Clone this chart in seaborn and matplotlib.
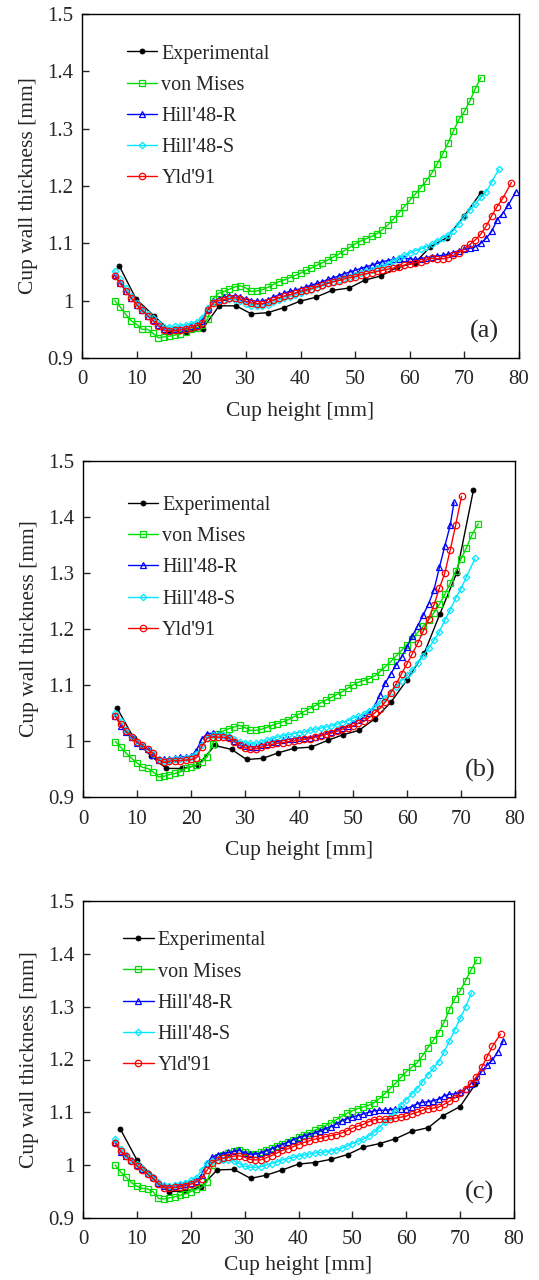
import matplotlib
matplotlib.use("Agg")
import matplotlib.pyplot as plt
import seaborn as sns

# ---------------- data ----------------
H_GRID = [6, 7, 8, 9, 10, 11, 12, 13, 14, 15, 16, 17, 18, 19, 20, 21, 22, 23, 24, 25,
          26, 27, 28, 29, 30, 31, 32, 33, 34, 35, 36, 37, 38, 39, 40, 41, 42, 43, 44, 45,
          46, 47, 48, 49, 50, 51, 52, 53, 54, 55, 56, 57, 58, 59, 60, 61, 62, 63, 64, 65,
          66, 67, 68, 69, 70, 71, 72, 73, 74, 75, 76, 77, 78, 79]

labels = ["Experimental", "von Mises", "Hill'48-R", "Hill'48-S", "Yld'91"]
panel_tags = ["(a)", "(b)", "(c)"]
x_ticks = [0, 10, 20, 30, 40, 50, 60, 70, 80]
y_ticks = [0.9, 1.0, 1.1, 1.2, 1.3, 1.4, 1.5]
y_tick_labels = ["0.9", "1", "1.1", "1.2", "1.3", "1.4", "1.5"]

# ---- panel (a) ----
exp_x_a = [6.8, 9.9, 13.1, 16.0, 19.0, 22.1, 25.1, 28.2, 31.0, 34.0, 37.0, 39.9, 42.8,
           45.8, 48.9, 51.8, 54.7, 57.7, 60.9, 63.7, 66.8, 70.0, 73.0]
exp_y_a = [1.061, 1.003, 0.974, 0.949, 0.945, 0.951, 0.991, 0.991, 0.977, 0.979, 0.988,
           0.999, 1.006, 1.018, 1.022, 1.036, 1.043, 1.058, 1.066, 1.093, 1.110, 1.148, 1.188]
mises_y_a = [1.000, 0.989, 0.976, 0.965, 0.959, 0.950, 0.950, 0.943, 0.935, 0.937,
             0.938, 0.940, 0.942, 0.946, 0.950, 0.953, 0.957, 0.968, 1.003, 1.013,
             1.016, 1.020, 1.024, 1.026, 1.022, 1.016, 1.017, 1.019, 1.023, 1.028,
             1.033, 1.036, 1.040, 1.044, 1.048, 1.053, 1.057, 1.062, 1.066, 1.071,
             1.076, 1.081, 1.087, 1.093, 1.099, 1.104, 1.108, 1.112, 1.117, 1.124,
             1.132, 1.142, 1.153, 1.164, 1.175, 1.186, 1.197, 1.209, 1.222, 1.238,
             1.255, 1.275, 1.296, 1.316, 1.330, 1.348, 1.370, 1.389]
mises_xend_a = 73.0
hillr_y_a = [1.044, 1.031, 1.017, 1.004, 0.993, 0.983, 0.974, 0.966, 0.957, 0.950,
             0.949, 0.950, 0.951, 0.953, 0.955, 0.958, 0.964, 0.985, 0.999, 1.003,
             1.006, 1.008, 1.009, 1.007, 1.003, 1.000, 0.999, 0.999, 1.002, 1.006,
             1.010, 1.013, 1.016, 1.018, 1.021, 1.024, 1.027, 1.030, 1.033, 1.037,
             1.040, 1.043, 1.047, 1.050, 1.053, 1.056, 1.059, 1.062, 1.065, 1.068,
             1.070, 1.072, 1.073, 1.074, 1.073, 1.072, 1.073, 1.075, 1.077, 1.078,
             1.079, 1.081, 1.084, 1.087, 1.090, 1.091, 1.094, 1.100, 1.109, 1.121,
             1.141, 1.152, 1.166, 1.190]
hillr_xend_a = 79.4
hills_y_a = [1.052, 1.037, 1.022, 1.008, 0.996, 0.986, 0.977, 0.969, 0.961, 0.954,
             0.954, 0.955, 0.956, 0.958, 0.960, 0.963, 0.970, 0.987, 0.997, 1.000,
             1.002, 1.003, 1.002, 0.999, 0.995, 0.991, 0.990, 0.990, 0.993, 0.997,
             1.001, 1.004, 1.007, 1.010, 1.013, 1.016, 1.019, 1.022, 1.026, 1.030,
             1.033, 1.036, 1.039, 1.042, 1.045, 1.048, 1.051, 1.054, 1.057, 1.060,
             1.064, 1.069, 1.074, 1.079, 1.083, 1.087, 1.090, 1.094, 1.098, 1.104,
             1.110, 1.114, 1.122, 1.134, 1.146, 1.158, 1.168, 1.180, 1.190, 1.207,
             1.229]
hills_xend_a = 76.3
yld_y_a = [1.043, 1.030, 1.017, 1.005, 0.993, 0.983, 0.974, 0.965, 0.956, 0.948,
           0.947, 0.948, 0.949, 0.951, 0.953, 0.956, 0.961, 0.983, 0.996, 1.000,
           1.002, 1.004, 1.005, 1.003, 0.999, 0.996, 0.995, 0.995, 0.997, 1.001,
           1.005, 1.008, 1.010, 1.013, 1.016, 1.019, 1.021, 1.024, 1.027, 1.030,
           1.033, 1.035, 1.038, 1.040, 1.042, 1.045, 1.047, 1.049, 1.051, 1.053,
           1.055, 1.057, 1.059, 1.062, 1.064, 1.066, 1.068, 1.071, 1.074, 1.073,
           1.073, 1.075, 1.079, 1.084, 1.091, 1.098, 1.106, 1.116, 1.130, 1.148,
           1.164, 1.178, 1.206]
yld_xend_a = 78.6

# ---- panel (b) ----
exp_x_b = [6.3, 9.4, 12.5, 15.4, 18.4, 21.3, 24.4, 27.5, 30.3, 33.3, 36.2, 39.1, 42.2,
           45.3, 48.1, 51.1, 54.1, 57.0, 60.0, 63.2, 66.1, 69.2, 72.3]
exp_y_b = [1.059, 1.005, 0.974, 0.951, 0.951, 0.957, 0.992, 0.985, 0.967, 0.969, 0.979,
           0.987, 0.989, 1.001, 1.011, 1.019, 1.040, 1.069, 1.109, 1.157, 1.227, 1.300, 1.448]
mises_y_b = [0.999, 0.989, 0.978, 0.969, 0.961, 0.953, 0.951, 0.945, 0.936, 0.937,
             0.940, 0.942, 0.945, 0.951, 0.954, 0.957, 0.962, 0.972, 0.995, 1.013,
             1.018, 1.022, 1.025, 1.028, 1.024, 1.019, 1.019, 1.021, 1.024, 1.028,
             1.031, 1.034, 1.038, 1.043, 1.048, 1.053, 1.058, 1.063, 1.068, 1.073,
             1.078, 1.083, 1.088, 1.094, 1.100, 1.105, 1.108, 1.111, 1.116, 1.124,
             1.133, 1.142, 1.152, 1.162, 1.172, 1.183, 1.194, 1.205, 1.216, 1.229,
             1.244, 1.262, 1.282, 1.303, 1.325, 1.345, 1.368, 1.388]
mises_xend_b = 73.2
hillr_y_b = [1.045, 1.027, 1.016, 1.007, 0.997, 0.991, 0.986, 0.975, 0.966, 0.967,
             0.968, 0.970, 0.971, 0.972, 0.973, 0.983, 1.004, 1.013, 1.014, 1.012,
             1.011, 1.008, 1.000, 0.995, 0.991, 0.990, 0.990, 0.992, 0.995, 0.998,
             0.999, 1.001, 1.003, 1.004, 1.006, 1.006, 1.006, 1.008, 1.010, 1.012,
             1.016, 1.020, 1.024, 1.027, 1.032, 1.037, 1.042, 1.050, 1.063, 1.083,
             1.104, 1.120, 1.136, 1.150, 1.168, 1.188, 1.206, 1.225, 1.245, 1.270,
             1.310, 1.348, 1.385, 1.426]
hillr_xend_b = 68.7
hills_y_b = [1.050, 1.035, 1.020, 1.008, 0.998, 0.992, 0.985, 0.977, 0.968, 0.965,
             0.966, 0.967, 0.968, 0.969, 0.971, 0.976, 0.992, 1.006, 1.010, 1.011,
             1.011, 1.009, 1.004, 0.999, 0.997, 0.996, 0.996, 0.998, 1.001, 1.004,
             1.007, 1.009, 1.011, 1.013, 1.015, 1.016, 1.019, 1.021, 1.023, 1.025,
             1.027, 1.030, 1.033, 1.036, 1.041, 1.044, 1.048, 1.054, 1.060, 1.067,
             1.077, 1.088, 1.097, 1.108, 1.117, 1.127, 1.140, 1.152, 1.166, 1.180,
             1.195, 1.216, 1.234, 1.255, 1.272, 1.293, 1.326]
hills_xend_b = 72.6
yld_y_b = [1.044, 1.030, 1.017, 1.008, 0.998, 0.993, 0.985, 0.978, 0.966, 0.962,
           0.964, 0.965, 0.965, 0.966, 0.967, 0.970, 0.990, 1.005, 1.007, 1.007,
           1.007, 1.005, 0.999, 0.992, 0.988, 0.985, 0.986, 0.989, 0.992, 0.994,
           0.996, 0.997, 0.999, 1.000, 1.002, 1.003, 1.004, 1.007, 1.009, 1.012,
           1.014, 1.017, 1.021, 1.024, 1.027, 1.032, 1.035, 1.042, 1.050, 1.058,
           1.070, 1.086, 1.102, 1.120, 1.138, 1.156, 1.175, 1.196, 1.218, 1.243,
           1.273, 1.300, 1.341, 1.385, 1.437]
yld_xend_b = 70.1

# ---- panel (c) ----
exp_x_c = [6.9, 10.0, 13.0, 15.9, 19.0, 21.9, 24.9, 28.0, 31.1, 34.0, 37.0, 40.0, 43.0,
           46.0, 49.1, 52.0, 55.1, 58.0, 61.0, 64.1, 66.9, 70.0, 72.8]
exp_y_c = [1.069, 1.010, 0.978, 0.950, 0.951, 0.959, 0.991, 0.992, 0.975, 0.981, 0.991,
           1.002, 1.005, 1.011, 1.020, 1.034, 1.041, 1.050, 1.064, 1.071, 1.094, 1.111, 1.153]
mises_y_c = [1.000, 0.987, 0.977, 0.967, 0.960, 0.956, 0.955, 0.950, 0.937, 0.936,
             0.938, 0.940, 0.943, 0.946, 0.950, 0.954, 0.958, 0.968, 1.000, 1.015,
             1.020, 1.023, 1.026, 1.029, 1.024, 1.022, 1.022, 1.024, 1.028, 1.032,
             1.036, 1.040, 1.044, 1.048, 1.053, 1.057, 1.061, 1.066, 1.070, 1.075,
             1.080, 1.086, 1.092, 1.098, 1.103, 1.107, 1.110, 1.113, 1.118, 1.126,
             1.135, 1.145, 1.155, 1.166, 1.177, 1.185, 1.194, 1.207, 1.222, 1.236,
             1.251, 1.270, 1.294, 1.315, 1.330, 1.349, 1.369, 1.389]
mises_xend_c = 73.1
hillr_y_c = [1.044, 1.025, 1.017, 1.009, 1.001, 0.993, 0.985, 0.977, 0.967, 0.961,
             0.960, 0.961, 0.962, 0.964, 0.967, 0.970, 0.982, 1.005, 1.015, 1.020,
             1.022, 1.024, 1.026, 1.028, 1.023, 1.021, 1.021, 1.023, 1.027, 1.031,
             1.035, 1.039, 1.043, 1.048, 1.052, 1.055, 1.058, 1.061, 1.065, 1.069,
             1.073, 1.078, 1.084, 1.088, 1.091, 1.094, 1.097, 1.100, 1.103, 1.104,
             1.104, 1.105, 1.106, 1.107, 1.107, 1.111, 1.116, 1.119, 1.120, 1.122,
             1.125, 1.131, 1.134, 1.135, 1.138, 1.145, 1.154, 1.162, 1.178, 1.189,
             1.199, 1.215, 1.235]
hillr_xend_c = 78.0
hills_y_c = [1.050, 1.030, 1.019, 1.010, 1.002, 0.994, 0.986, 0.978, 0.968, 0.962,
             0.961, 0.962, 0.964, 0.967, 0.971, 0.976, 0.990, 1.004, 1.008, 1.009,
             1.009, 1.009, 1.008, 1.003, 0.998, 0.996, 0.996, 0.997, 1.000, 1.003,
             1.006, 1.010, 1.012, 1.015, 1.017, 1.019, 1.021, 1.023, 1.024, 1.025,
             1.027, 1.029, 1.032, 1.036, 1.041, 1.045, 1.049, 1.055, 1.062, 1.071,
             1.081, 1.091, 1.102, 1.114, 1.124, 1.134, 1.145, 1.158, 1.171, 1.183,
             1.196, 1.214, 1.235, 1.256, 1.278, 1.299, 1.326]
hills_xend_c = 72.1
yld_y_c = [1.042, 1.026, 1.018, 1.008, 0.999, 0.991, 0.983, 0.975, 0.964, 0.957,
           0.957, 0.958, 0.959, 0.961, 0.964, 0.968, 0.974, 0.990, 1.005, 1.010,
           1.013, 1.015, 1.017, 1.018, 1.015, 1.011, 1.010, 1.010, 1.014, 1.018,
           1.023, 1.028, 1.031, 1.035, 1.039, 1.043, 1.046, 1.049, 1.051, 1.054,
           1.056, 1.058, 1.061, 1.065, 1.070, 1.074, 1.077, 1.082, 1.086, 1.087,
           1.087, 1.088, 1.089, 1.091, 1.093, 1.097, 1.100, 1.104, 1.107, 1.108,
           1.110, 1.115, 1.121, 1.127, 1.136, 1.145, 1.155, 1.167, 1.185, 1.205,
           1.225, 1.248]
yld_xend_c = 77.5

# ---------------- style ----------------
sns.set_style("ticks")
plt.rcParams["font.family"] = ["Liberation Serif", "DejaVu Serif"]

colors = ["#000000", "#00dd00", "#0000ff", "#00e8ff", "#ff0000"]
marker_cfg = [
    dict(marker="o", markersize=3.6, markerfacecolor="#000000", markeredgecolor="#000000", markeredgewidth=0.6),
    dict(marker="s", markersize=4.8, markerfacecolor="none", markeredgecolor="#00dd00", markeredgewidth=0.9),
    dict(marker="^", markersize=4.6, markerfacecolor="none", markeredgecolor="#0000ff", markeredgewidth=0.9),
    dict(marker="D", markersize=3.3, markerfacecolor="none", markeredgecolor="#00e8ff", markeredgewidth=0.9),
    dict(marker="o", markersize=4.6, markerfacecolor="none", markeredgecolor="#ff0000", markeredgewidth=0.9),
]


def sim_x(y_vals, x_end):
    return H_GRID[:len(y_vals) - 1] + [x_end]


panels = [
    dict(exp=(exp_x_a, exp_y_a),
         sims=[(mises_y_a, mises_xend_a), (hillr_y_a, hillr_xend_a),
               (hills_y_a, hills_xend_a), (yld_y_a, yld_xend_a)],
         rect=[82 / 539, 1 - 358 / 1280, 437 / 539, 344 / 1280],
         leg=(0.085, 0.935), xlpad=9),
    dict(exp=(exp_x_b, exp_y_b),
         sims=[(mises_y_b, mises_xend_b), (hillr_y_b, hillr_xend_b),
               (hills_y_b, hills_xend_b), (yld_y_b, yld_xend_b)],
         rect=[83 / 539, 1 - 797 / 1280, 432 / 539, 336 / 1280],
         leg=(0.085, 0.92), xlpad=9),
    dict(exp=(exp_x_c, exp_y_c),
         sims=[(mises_y_c, mises_xend_c), (hillr_y_c, hillr_xend_c),
               (hills_y_c, hills_xend_c), (yld_y_c, yld_xend_c)],
         rect=[83 / 539, 1 - 1218 / 1280, 431 / 539, 317 / 1280],
         leg=(0.075, 0.93), xlpad=5),
]

fig = plt.figure(figsize=(5.39, 12.8), dpi=100)

for p, tag in zip(panels, panel_tags):
    ax = fig.add_axes(p["rect"])
    series = [p["exp"]] + [(sim_x(yv, xe), yv) for yv, xe in p["sims"]]
    for (xs, ys), lab, col, mc in zip(series, labels, colors, marker_cfg):
        sns.lineplot(x=xs, y=ys, ax=ax, color=col, linewidth=1.0, sort=False,
                     estimator=None, label=lab, **mc)
    ax.set_xlim(0, 80)
    ax.set_ylim(0.9, 1.5)
    ax.set_xticks(x_ticks)
    ax.set_yticks(y_ticks)
    ax.set_yticklabels(y_tick_labels)
    ax.tick_params(direction="in", length=5, width=1.0, labelsize=15,
                   top=False, right=False)
    ax.tick_params(axis="x", pad=9)
    ax.tick_params(axis="y", pad=6)
    for s in ax.spines.values():
        s.set_visible(True)
        s.set_linewidth(1.0)
        s.set_color("black")
    ax.set_xlabel("Cup height [mm]", fontsize=15.5, labelpad=p["xlpad"])
    ax.set_ylabel("Cup wall thickness [mm]", fontsize=15.5, labelpad=7)
    ax.text(0.955, 0.045, tag, transform=ax.transAxes, ha="right", va="bottom",
            fontsize=19)
    ax.legend(loc="upper left", bbox_to_anchor=p["leg"], frameon=False,
              fontsize=14.5, handlelength=1.5, handletextpad=0.2,
              labelspacing=0.6, borderaxespad=0.0)

fig.savefig("out.png", dpi=100)
